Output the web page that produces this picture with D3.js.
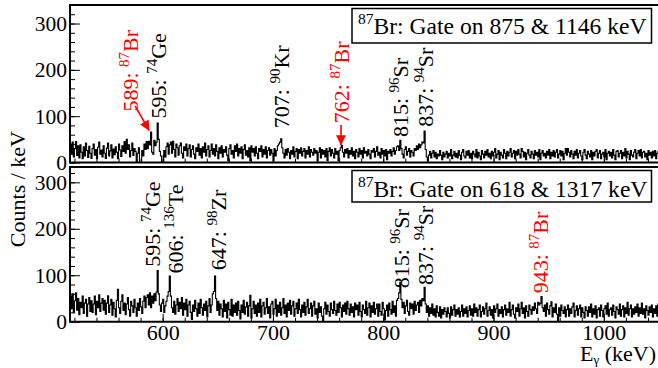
<!DOCTYPE html>
<html><head><meta charset="utf-8">
<script src="https://cdn.jsdelivr.net/npm/d3@7"></script>
<style>html,body{margin:0;padding:0;background:#fff;}svg{display:block;}</style>
</head><body>
<svg id="c" width="658" height="368"></svg>
<script>
// ---------------- data ----------------
const keVStart = 516;           // first bin lower edge (1 keV bins)
const xDomain = [516, 1050];
const yDomainTop = [0, 340];
const yDomainBot = [0, 333];
const xTickLabels = [600, 700, 800, 900, 1000];
const yTickLabels = [0, 100, 200, 300];

// Gate on 875 & 1146 keV
const countsTop = [
40,18,44,12,30,45,15,36,10,38, 22,8,34,14,42,26,11,35,20,9,
30,40,16,28,8,33,44,18,27,12, 36,20,9,31,42,14,25,38,10,29,
17,34,22,8,40,27,13,36,24,45, 20,50,28,38,12,26,42,15,30,24,
2,20,32,0,0,26,14,40,28,45, 30,46,38,66,22,18,48,36,44,85,
50,24,14,2,0,26,12,34,42,18, 38,44,20,46,28,12,40,32,16,36,
42,20,10,34,26,40,14,30,38,12, 28,36,18,8,32,24,40,16,30,10,
34,22,42,14,28,36,12,26,40,18, 30,14,38,24,8,32,20,36,12,28,
22,34,16,4,30,38,18,26,10,36, 24,40,14,30,20,34,8,28,38,16,
26,12,32,4,36,22,30,14,34,20, 8,30,24,36,12,28,18,34,10,26,
32,16,28,20,4,30,14,26,36,40, 44,51,32,20,10,28,16,30,22,8,
26,18,34,12,24,30,8,28,20,32, 14,24,30,10,26,18,34,12,28,22,
16,30,20,26,4,22,32,10,28,18, 26,12,30,4,24,32,14,28,20,10,
30,18,24,4,26,32,37,22,12,28, 20,30,10,26,18,32,14,24,8,28,
22,12,30,18,26,10,32,20,24,14, 28,18,8,26,22,30,12,24,34,16,
22,10,30,18,26,14,28,6,24,20, 28,14,24,32,18,26,34,36,26,48,
30,18,10,28,34,16,24,30,12,26, 22,14,30,26,36,28,40,32,38,44,
42,68,28,12,4,16,24,10,20,26, 12,22,8,18,14,26,16,6,22,12,
18,24,10,20,14,28,8,16,24,12, 20,10,26,16,6,22,28,14,10,24,
16,26,10,20,8,24,18,12,28,10, 22,14,6,26,18,10,24,16,28,12,
20,8,24,14,22,30,10,18,26,6, 22,16,10,28,20,8,24,14,22,30,
12,20,26,8,24,16,28,18,10,30, 24,12,22,6,20,28,16,10,24,18,
8,26,16,22,12,28,6,20,26,14, 20,10,24,16,28,8,22,14,26,12,
22,28,10,18,26,14,24,6,20,30, 16,30,22,12,26,18,8,24,16,28,
10,20,26,14,6,22,28,16,8,24, 18,12,26,6,22,14,24,28,10,20,
26,8,18,22,12,28,6,20,24,14, 22,10,28,16,6,24,26,12,20,26,
8,22,14,30,10,24,18,6,26,16, 12,22,28,8,20,26,14,28,10,22,
24,12,20,6,26,16,22,10,24,14, 26,8,20,24,12
];

// Gate on 618 & 1317 keV
const countsBot = [
55,28,60,20,45,62,25,50,15,42, 30,55,18,40,48,12,38,52,22,45,
20,38,55,15,44,30,58,22,40,50, 25,46,16,40,56,20,36,48,14,42,
28,10,46,70,30,18,44,58,24,40, 15,38,52,26,12,44,34,20,48,30,
12,40,24,50,32,18,44,55,30,52, 58,36,62,30,55,40,60,45,64,110,
60,36,22,40,48,20,34,44,55,65, 98,55,30,20,44,16,36,50,22,42,
28,52,14,40,26,48,12,36,44,20, 5,36,22,46,28,12,40,18,48,30,
14,38,24,44,10,34,50,20,36,60, 65,98,50,24,44,14,38,28,10,46,
22,38,8,42,26,14,48,12,36,20, 40,14,44,24,6,36,20,46,16,32,
42,12,34,57,8,28,44,18,36,12, 40,20,48,10,34,42,16,30,50,18,
32,8,38,44,16,28,48,12,36,20, 42,14,30,50,18,36,10,40,24,46,
16,34,44,12,28,40,18,48,26,10, 36,20,42,14,32,48,18,28,40,12,
34,44,16,28,8,40,20,32,12,0, 28,42,16,36,22,12,40,26,18,44,
24,14,38,20,42,30,10,36,22,40, 16,44,28,14,38,20,32,10,40,26,
36,14,42,22,10,36,26,18,44,14, 30,40,10,34,20,42,16,28,38,12,
38,22,14,42,28,4,24,36,12,40, 26,16,44,20,34,12,46,50,62,85,
48,30,42,18,34,46,22,14,40,28, 38,16,44,24,36,42,20,46,34,50,
45,74,38,20,34,12,30,18,38,14, 28,10,34,20,12,32,8,26,16,30,
22,10,30,18,8,32,14,26,36,12, 26,16,30,10,22,36,12,28,18,32,
10,24,34,14,28,12,38,20,30,12, 26,36,10,22,32,16,28,40,12,24,
32,14,26,8,34,20,28,38,12,26, 18,32,10,26,36,14,28,20,42,12,
26,36,16,8,30,22,38,12,28,42, 18,30,8,34,22,12,36,26,16,32,
24,40,28,18,42,36,40,54,30,22, 36,12,40,26,16,34,43,10,30,20,
38,16,0,30,12,36,24,18,32,10, 26,36,12,28,18,32,40,10,24,34,
14,28,36,10,30,20,8,32,24,12, 32,20,38,10,28,16,34,8,26,30,
12,36,24,10,28,34,16,40,12,26, 30,14,36,22,8,32,26,16,38,12,
26,34,10,30,18,42,14,28,36,10, 28,16,32,20,38,12,30,18,40,16,
28,8,34,24,14,32,20,36,10,28, 18,34,12,38,24
];

// peak labels: [energy of label baseline (keV), label start level (counts), number, isotope mass, element, red?]
const labelsTop = [
  [578.1, 110, "589: ", "87", "Br", true],
  [603.0,  95, "595: ", "74", "Ge", false],
  [715.0,  74, "707: ", "90", "Kr", false],
  [768.5,  85, "762: ", "87", "Br", true],
  [822.0,  55, "815: ", "96", "Sr", false],
  [845.5,  77, "837: ", "94", "Sr", false]
];
const labelsBot = [
  [598.0, 118.5, "595: ", "74", "Ge", false],
  [618.9, 104, "606: ", "136", "Te", false],
  [657.0, 111, "647: ", "98", "Zr", false],
  [822.9,  72, "815: ", "96", "Sr", false],
  [845.5,  79, "837: ", "94", "Sr", false],
  [949.8,  61, "943: ", "87", "Br", true]
];
// arrows [from keV, from counts, to keV, to counts]
const arrowsTop = [
  [575.1, 122, 587.9, 68.7],
  [761.7, 81, 761.7, 37]
];
const legendTop = ["87", "Br: Gate on 875 & 1146 keV"];
const legendBot = ["87", "Br: Gate on 618 & 1317 keV"];

// ---------------- drawing ----------------
const svg = d3.select("#c");
const FONT = "'Liberation Serif','Times New Roman',serif";
const RED = "#ff0000";

const x = d3.scaleLinear().domain(xDomain).range([70, 659]);
const yTop = d3.scaleLinear().domain(yDomainTop).range([162.5, 5]);
const yBot = d3.scaleLinear().domain(yDomainBot).range([321.7, 167]);

const defs = svg.append("defs");
defs.append("marker").attr("id", "ah").attr("viewBox", "0 0 10 10")
  .attr("refX", 10).attr("refY", 5).attr("markerWidth", 10).attr("markerHeight", 10)
  .attr("markerUnits", "userSpaceOnUse").attr("orient", "auto")
  .append("path").attr("d", "M0,0 L10,5 L0,10 z").attr("fill", RED);

function panel(y, counts, labels, arrows, legend, showXLabels, id) {
  const g = svg.append("g");
  const [y0, y1] = y.range();
  defs.append("clipPath").attr("id", id).append("rect")
    .attr("x", 70).attr("y", y1).attr("width", 589).attr("height", y0 - y1);

  const pts = counts.map((c, i) => [keVStart + i, c]);
  pts.push([keVStart + counts.length, counts[counts.length - 1]]);
  const line = d3.line().x(d => x(d[0])).y(d => y(d[1])).curve(d3.curveStepAfter);
  g.append("path").attr("clip-path", `url(#${id})`).attr("d", line(pts))
    .attr("fill", "none").attr("stroke", "#000").attr("stroke-width", 1.1);

  // x axis ticks (inside)
  const xMinor = d3.range(520, 1051, 20);
  g.append("g").attr("transform", `translate(0,${y0})`)
    .call(d3.axisBottom(x).tickValues(xMinor).tickSize(-4).tickFormat(""))
    .call(a => a.select(".domain").remove())
    .selectAll("line").attr("stroke", "#000").attr("stroke-width", 1);
  const xa = g.append("g").attr("transform", `translate(0,${y0})`)
    .call(d3.axisBottom(x).tickValues(xTickLabels).tickSize(-8)
      .tickFormat(showXLabels ? d3.format("d") : ""));
  xa.select(".domain").remove();
  xa.selectAll("line").attr("stroke", "#000").attr("stroke-width", 1);
  xa.selectAll("text").attr("font-family", FONT).attr("font-size", 22)
    .attr("fill", "#000").attr("y", 340 - y0).attr("dy", 0);

  // y axis ticks
  const yMinor = d3.range(0, y.domain()[1] + 0.1, 20);
  g.append("g").attr("transform", "translate(70,0)")
    .call(d3.axisLeft(y).tickValues(yMinor).tickSize(-5).tickFormat(""))
    .call(a => a.select(".domain").remove())
    .selectAll("line").attr("stroke", "#000");
  const ya = g.append("g").attr("transform", "translate(70,0)")
    .call(d3.axisLeft(y).tickValues(yTickLabels).tickSize(-10).tickPadding(3).tickFormat(d3.format("d")));
  ya.select(".domain").remove();
  ya.selectAll("line").attr("stroke", "#000");
  ya.selectAll("text").attr("font-family", FONT).attr("font-size", 21.5).attr("fill", "#000")
    .attr("dy", "0.33em");

  // frame
  g.append("line").attr("x1", 70).attr("x2", 658).attr("y1", y0).attr("y2", y0)
    .attr("stroke", "#000").attr("stroke-width", 2);
  g.append("line").attr("x1", 69).attr("x2", 658).attr("y1", y1).attr("y2", y1)
    .attr("stroke", "#000").attr("stroke-width", 2);
  g.append("line").attr("x1", 70).attr("x2", 70).attr("y1", y1).attr("y2", y0 + 1)
    .attr("stroke", "#000").attr("stroke-width", 2);

  // peak labels
  labels.forEach(([e, lvl, num, mass, el, red]) => {
    const t = g.append("text")
      .attr("transform", `translate(${x(e)},${y(lvl)}) rotate(-90)`)
      .attr("font-family", FONT).attr("font-size", 22).attr("fill", red ? RED : "#000");
    t.append("tspan").text(num);
    t.append("tspan").attr("font-size", 15).attr("dy", -9).text(mass);
    t.append("tspan").attr("dy", 9).text(el);
  });
  arrows.forEach(([e0, c0, e1, c1]) => {
    g.append("line").attr("x1", x(e0)).attr("y1", y(c0)).attr("x2", x(e1)).attr("y2", y(c1))
      .attr("stroke", RED).attr("stroke-width", 1.6).attr("marker-end", "url(#ah)");
  });

  // legend box
  const by = y1 + 3.5;
  g.append("rect").attr("x", 352).attr("y", by).attr("width", 299.5).attr("height", y === yTop ? 34.5 : 31.5)
    .attr("fill", "#fff").attr("stroke", "#000").attr("stroke-width", 1.5);
  const lt = g.append("text").attr("x", 358).attr("y", by + (y === yTop ? 25.8 : 26))
    .attr("font-family", FONT).attr("font-size", 23.6).attr("fill", "#000");
  lt.append("tspan").attr("font-size", 15.5).attr("dy", -10).text(legend[0]);
  lt.append("tspan").attr("dy", 10).text(legend[1]);
}

panel(yTop, countsTop, labelsTop, arrowsTop, legendTop, false, "cT");
panel(yBot, countsBot, labelsBot, [], legendBot, true, "cB");

// axis titles
svg.append("text").attr("transform", "translate(25,131) rotate(-90)")
  .attr("text-anchor", "end").attr("font-family", FONT).attr("font-size", 22)
  .text("Counts / keV");
const xt = svg.append("text").attr("x", 656).attr("y", 361).attr("text-anchor", "end")
  .attr("font-family", FONT).attr("font-size", 22);
xt.append("tspan").text("E");
xt.append("tspan").attr("font-size", 13).attr("dy", 3).text("γ");
xt.append("tspan").attr("dy", -3).text(" (keV)");
</script>
</body></html>
